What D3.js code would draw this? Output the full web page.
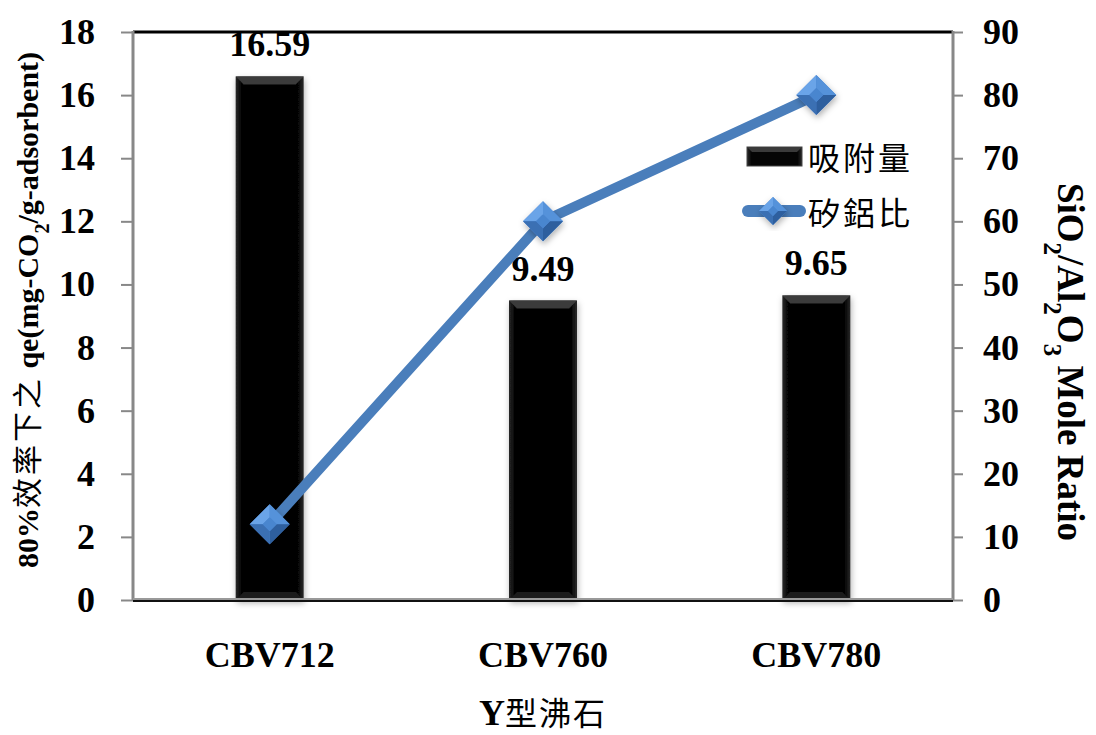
<!DOCTYPE html>
<html><head><meta charset="utf-8">
<script src="https://cdn.jsdelivr.net/npm/d3@7"></script>
<style>
body{margin:0;background:#fff;}
text{font-family:"Liberation Serif","Times New Roman",serif;font-weight:bold;fill:#000;}
.cjk{font-family:"Noto Sans CJK TC","Noto Sans CJK SC",sans-serif;font-weight:normal;}
</style></head>
<body>
<svg id="c" width="1096" height="735"></svg>
<script>
const categories = ["CBV712", "CBV760", "CBV780"];
const adsorption = [16.59, 9.49, 9.65];
const ratio = [12, 60, 80];
const leftTicks = [0, 2, 4, 6, 8, 10, 12, 14, 16, 18];
const rightTicks = [0, 10, 20, 30, 40, 50, 60, 70, 80, 90];
const legendLabels = ["吸附量", "矽鋁比"];

const svg = d3.select("#c");
const L = 133, R = 953, T = 32, B = 600;
const x = d3.scaleBand().domain(categories).range([L, R]);
const yL = d3.scaleLinear().domain([0, 18]).range([B, T]);
const yR = d3.scaleLinear().domain([0, 90]).range([B, T]);
const barW = 68;

const defs = svg.append("defs");
const g1 = defs.append("linearGradient").attr("id", "barGrad").attr("x1", 0).attr("x2", 1).attr("y1", 0).attr("y2", 0);
g1.append("stop").attr("offset", "0").attr("stop-color", "#2a2a2a");
g1.append("stop").attr("offset", "0.08").attr("stop-color", "#050505");
g1.append("stop").attr("offset", "0.92").attr("stop-color", "#050505");
g1.append("stop").attr("offset", "1").attr("stop-color", "#2a2a2a");
const f = defs.append("filter").attr("id", "sh").attr("x", "-20%").attr("y", "-20%").attr("width", "140%").attr("height", "140%");
f.append("feDropShadow").attr("dx", 1).attr("dy", 3).attr("stdDeviation", 3).attr("flood-color", "#000").attr("flood-opacity", 0.3);

// frame
svg.append("line").attr("x1", L).attr("x2", R).attr("y1", T).attr("y2", T).attr("stroke", "#000").attr("stroke-width", 3);

// bars
const bars = svg.append("g");
categories.forEach((c, i) => {
  const cx = x(c) + x.bandwidth() / 2;
  const y0 = yL(adsorption[i]);
  const g = bars.append("g").attr("filter", "url(#sh)");
  g.append("rect").attr("x", cx - barW / 2).attr("y", y0).attr("width", barW).attr("height", B - y0).attr("fill", "url(#barGrad)");
  g.append("path").attr("d", `M${cx - barW / 2},${y0} L${cx + barW / 2},${y0} L${cx + barW / 2 - 8},${y0 + 8} L${cx - barW / 2 + 8},${y0 + 8} Z`).attr("fill", "#3a3a3a");
  g.append("path").attr("d", `M${cx - barW / 2},${B} L${cx + barW / 2},${B} L${cx + barW / 2 - 8},${B - 8} L${cx - barW / 2 + 8},${B - 8} Z`).attr("fill", "#1c1c1c");
  svg.append("text").attr("x", cx).attr("y", y0 - 20).attr("text-anchor", "middle").attr("font-size", 36).text(adsorption[i].toFixed(2));
});

// axes
const axL = svg.append("g").attr("transform", `translate(${L},0)`).call(d3.axisLeft(yL).tickValues(leftTicks).tickSize(12).tickPadding(26));
const axR = svg.append("g").attr("transform", `translate(${R},0)`).call(d3.axisRight(yR).tickValues(rightTicks).tickSize(10).tickPadding(20));
[axL, axR].forEach(a => {
  a.select(".domain").remove();
  a.selectAll(".tick line").attr("stroke", "#888").attr("stroke-width", 2);
  a.selectAll(".tick text").attr("font-size", 36).attr("font-family", "Liberation Serif").attr("font-weight", "bold").attr("fill", "#000");
});
svg.append("line").attr("x1", L).attr("x2", L).attr("y1", T - 1).attr("y2", B + 1).attr("stroke", "#888").attr("stroke-width", 3);
svg.append("line").attr("x1", R).attr("x2", R).attr("y1", T - 1).attr("y2", B + 1).attr("stroke", "#888").attr("stroke-width", 3);
svg.append("line").attr("x1", L).attr("x2", R).attr("y1", B - 1).attr("y2", B - 1).attr("stroke", "#999").attr("stroke-width", 2);
svg.append("line").attr("x1", L).attr("x2", R).attr("y1", B + 1).attr("y2", B + 1).attr("stroke", "#111").attr("stroke-width", 2);

// category labels
const axB = svg.append("g").attr("transform", `translate(0,${B})`).call(d3.axisBottom(x).tickSize(0).tickPadding(0));
axB.select(".domain").remove();
axB.selectAll(".tick text").attr("font-size", 36).attr("font-family", "Liberation Serif").attr("font-weight", "bold").attr("fill", "#000").attr("dy", null).attr("y", 67);

// line series
const pts = categories.map((c, i) => [x(c) + x.bandwidth() / 2, yR(ratio[i])]);
svg.append("path").attr("d", d3.line()(pts)).attr("fill", "none").attr("stroke", "#4a7ebb").attr("stroke-width", 10).attr("stroke-linejoin", "round");

function diamond(sel, cx, cy, r) {
  const g = sel.append("g").attr("filter", "url(#sh)");
  const top = [cx, cy - r], rt = [cx + r, cy], bot = [cx, cy + r], lf = [cx - r, cy];
  const inner = 0.35 * r;
  const ti = [cx, cy - inner], ri = [cx + inner, cy], bi = [cx, cy + inner], li = [cx - inner, cy];
  g.append("path").attr("d", d3.line()([top, rt, bot, lf]) + "Z").attr("fill", "#4a86cf");
  g.append("path").attr("d", d3.line()([lf, top, ti, li]) + "Z").attr("fill", "#6aa4e8");
  g.append("path").attr("d", d3.line()([top, rt, ri, ti]) + "Z").attr("fill", "#5592da");
  g.append("path").attr("d", d3.line()([rt, bot, bi, ri]) + "Z").attr("fill", "#2f5f9e");
  g.append("path").attr("d", d3.line()([bot, lf, li, bi]) + "Z").attr("fill", "#3b70b3");
  g.append("path").attr("d", d3.line()([ti, ri, bi, li]) + "Z").attr("fill", "#4a86cf");
}
pts.forEach(p => diamond(svg, p[0], p[1], 20));

// legend
const lg = svg.append("g");
lg.append("rect").attr("x", 747).attr("y", 147).attr("width", 55).attr("height", 19).attr("fill", "url(#barGrad)").attr("stroke", "#444").attr("stroke-width", 1);
lg.append("path").attr("d", "M747,147 L802,147 L797,152 L752,152 Z").attr("fill", "#3a3a3a");
lg.append("line").attr("x1", 748).attr("x2", 800).attr("y1", 211).attr("y2", 211).attr("stroke", "#4a7ebb").attr("stroke-width", 12).attr("stroke-linecap", "round");
diamond(lg, 773, 211, 14);
lg.selectAll("text.lg").data(legendLabels).join("text").attr("class", "cjk lg").attr("x", 808).attr("y", (d, i) => 170 + i * 55).attr("font-size", 32).attr("letter-spacing", 3).text(d => d);

// axis titles
const lt = svg.append("text").attr("transform", "translate(38,310) rotate(-90)").attr("text-anchor", "middle").attr("font-size", 30);
lt.append("tspan").text("80%");
lt.append("tspan").attr("class", "cjk").attr("font-weight", "bold").attr("letter-spacing", 3).text("效率下之");
lt.append("tspan").text(" qe(mg-CO");
lt.append("tspan").attr("baseline-shift", "sub").attr("font-size", 20).text("2");
lt.append("tspan").text("/g-adsorbent)");

const rt = svg.append("text").attr("transform", "translate(1058,362) rotate(90)").attr("text-anchor", "middle").attr("font-size", 37);
rt.append("tspan").text("SiO");
rt.append("tspan").attr("baseline-shift", "sub").attr("font-size", 25).text("2");
rt.append("tspan").text("/Al");
rt.append("tspan").attr("baseline-shift", "sub").attr("font-size", 25).text("2");
rt.append("tspan").text("O");
rt.append("tspan").attr("baseline-shift", "sub").attr("font-size", 25).text("3");
rt.append("tspan").text(" Mole Ratio");

const bt = svg.append("text").attr("x", 543).attr("y", 725).attr("text-anchor", "middle").attr("font-size", 36);
bt.append("tspan").text("Y");
bt.append("tspan").attr("class", "cjk").attr("font-size", 32).attr("letter-spacing", 2).text("型沸石");
</script>
</body></html>
